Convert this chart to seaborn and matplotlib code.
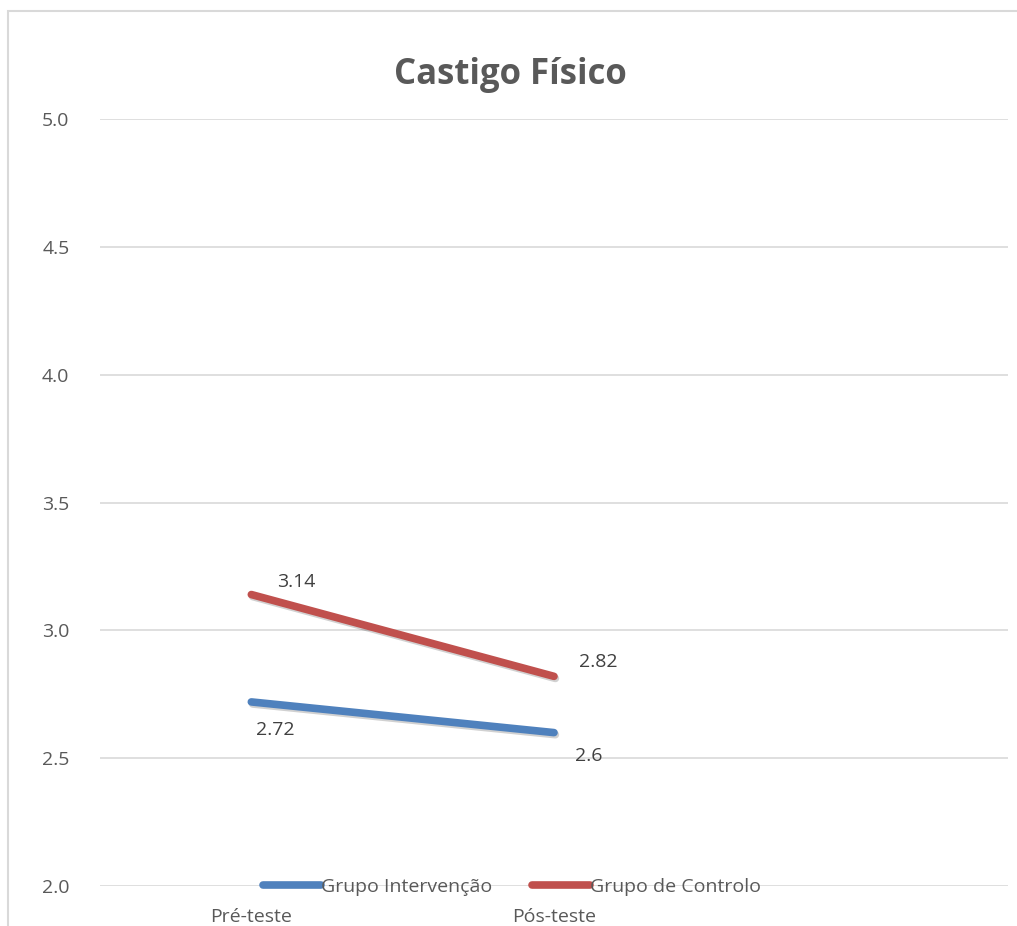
import matplotlib
matplotlib.use("Agg")
import matplotlib.pyplot as plt
import matplotlib.patheffects as pe
from matplotlib.patches import Rectangle
from matplotlib.lines import Line2D
import pandas as pd
import seaborn as sns

# chart data
categories = ["Pré-teste", "Pós-teste"]
grupos = ["Grupo Intervenção", "Grupo de Controlo"]
intervencao = [2.72, 2.6]
controlo = [3.14, 2.82]
labels_intervencao = ["2.72", "2.6"]
labels_controlo = ["3.14", "2.82"]

df = pd.DataFrame({
    "momento": categories * 2,
    "valor": intervencao + controlo,
    "grupo": [grupos[0]] * 2 + [grupos[1]] * 2,
})

sns.set_theme(style="white")
plt.rcParams["font.family"] = ["Open Sans", "DejaVu Sans"]

fig = plt.figure(figsize=(10.17, 9.26), dpi=100)
ax = fig.add_axes([100 / 1017, 40 / 926, 908 / 1017, 767 / 926])

# light chart border like the Excel chart area
fig.patches.append(Rectangle((8 / 1017, -0.1), 1.2, (926 - 11) / 926 + 0.1,
                             transform=fig.transFigure, fill=False,
                             edgecolor="#D9D9D9", linewidth=1.5))

palette = {grupos[0]: "#4F81BD", grupos[1]: "#C0504D"}
shadow = [pe.SimpleLineShadow(offset=(1, -1.5), alpha=0.18, shadow_color="black"),
          pe.Normal()]
sns.lineplot(data=df, x="momento", y="valor", hue="grupo", palette=palette,
             linewidth=5.5, ax=ax, sort=False, legend=False,
             path_effects=shadow, solid_capstyle="round")

txt = dict(fontsize=14, color="#404040", ha="center", va="center")
offs_c = [(32, 9), (32, 10)]
offs_i = [(17, -20), (25, -17)]
for i, cat in enumerate(categories):
    ax.annotate(labels_controlo[i], (i, controlo[i]), xytext=offs_c[i],
                textcoords="offset points", **txt)
    ax.annotate(labels_intervencao[i], (i, intervencao[i]), xytext=offs_i[i],
                textcoords="offset points", **txt)

ax.set_ylim(2.0, 5.0)
ax.set_yticks([2.0, 2.5, 3.0, 3.5, 4.0, 4.5, 5.0])
ax.set_yticklabels([f"{v:.1f}" for v in ax.get_yticks()])
ax.set_xlim(-0.5, 2.5)
ax.set_xticks([0, 1])
ax.set_xticklabels(categories)
ax.set_xlabel("")
ax.set_ylabel("")
ax.grid(axis="y", color="#D9D9D9", linewidth=1.2)
ax.set_axisbelow(True)
for s in ax.spines.values():
    s.set_visible(False)
ax.tick_params(axis="y", labelsize=14, labelcolor="#595959", length=0, pad=22)
ax.tick_params(axis="x", labelsize=14, labelcolor="#595959", length=0, pad=16)

fig.text(510 / 1017, 1 - 75 / 926, "Castigo Físico", fontsize=25,
         fontweight="bold", color="#595959", ha="center", va="center")

# legend at bottom, overlapping the axis line
handles = [Line2D([], [], color=palette[g], linewidth=5.5, solid_capstyle="round")
           for g in grupos]
leg = ax.legend(handles, grupos, loc="center", bbox_to_anchor=(512 / 1017, 1 - 887 / 926),
                bbox_transform=fig.transFigure, ncol=2, frameon=False,
                fontsize=14, handlelength=3.0, handletextpad=0.0, columnspacing=2.0,
                labelcolor="#595959")

fig.savefig("out.png", dpi=100)
